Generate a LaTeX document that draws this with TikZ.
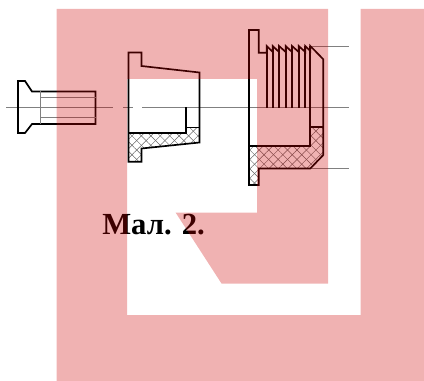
\documentclass[tikz,border=0pt]{standalone}
\usepackage{fontspec}
\setmainfont{Liberation Serif}
\usetikzlibrary{patterns.meta}
\tikzset{
  part/.style={line width=1.25pt,line join=miter},
  thin line/.style={line width=0.5pt,color=black!50},
  hatch a/.style={pattern={Lines[angle=45,distance=5pt,line width=0.35pt]},pattern color=black!60},
  hatch b/.style={pattern={Lines[angle=-45,distance=5pt,line width=0.35pt]},pattern color=black!60},
}
\begin{document}
\begin{tikzpicture}[x=0.75pt,y=-0.75pt]
  \useasboundingbox (0,0) rectangle (424,381);
  % hatching
  \foreach \hatchstyle in {hatch a,hatch b}{
    \path[\hatchstyle] (128.5,133)--(186,133)--(186,127.5)--(199.5,127.5)--(199.5,142.5)--(141.5,148.5)--(141.5,161.7)--(128.5,161.7)--cycle;
    \path[\hatchstyle] (249,146)--(310.3,146)--(310.3,127.3)--(323.3,127.3)--(323.3,155)--(310.3,168.5)--(258.7,168.5)--(258.7,185)--(249,185)--cycle;
  }
  % axis and extension lines
  \draw[thin line] (6,107.3)--(113,107.3) (123,107.3)--(133,107.3) (142,107.3)--(349,107.3);
  \draw[thin line] (310.3,46)--(349,46) (310.3,168.5)--(349,168.5);
  % bolt
  \draw[part] (18,81)--(25,81)--(32,91.5)--(95.5,91.5)--(95.5,124)--(32,124)--(25,133)--(18,133)--cycle;
  \draw[thin line] (40.5,91.5)--(40.5,124) (40.5,97.5)--(95.5,97.5) (40.5,117.5)--(95.5,117.5);
  % sleeve
  \draw[part] (128.5,52.5)--(141.5,52.5)--(141.5,66)--(199.5,72.5)--(199.5,142.5)--(141.5,148.5)--(141.5,161.7)--(128.5,161.7)--cycle;
  \draw[part] (128.5,133)--(186,133)--(186,107) (186,127.5)--(199.5,127.5);
  % nut
  \draw[part] (249,30)--(258.7,30)--(258.7,52.7)--(266.7,52.7)--(266.7,46)
    --(272.7,52)--(272.7,46)--(279,52)--(279,46)--(285.7,52)--(285.7,46)--(292,52)--(292,46)
    --(298.7,52)--(298.7,46)--(305.3,52)--(305.3,46)--(310.3,51)--(310.3,46)
    --(323.3,59.3)--(323.3,155)--(310.3,168.5)--(258.7,168.5)--(258.7,185)--(249,185)--cycle;
  \foreach \threadx in {266.7,272.7,279,285.7,292,298.7,305.3}{
    \draw[part] (\threadx,46)--(\threadx,108);
  }
  \draw[part] (249,146)--(310.3,146)--(310.3,46) (310.3,127.3)--(323.3,127.3);
  \node[anchor=base west,inner sep=0pt,font=\bfseries\fontsize{23pt}{28pt}\selectfont] (caption) at (102,234) {Мал. 2.};
  % watermark lies over the drawing
  \fill[color=red!80!black,opacity=0.3,even odd rule] (56.5,9)--(328,9)--(328,283.5)--(221.5,283.5)--(175.7,212.7)--(257,212.7)--(257,79)--(127,79)--(127,315)--(360.5,315)--(360.5,9)--(424,9)--(424,381)--(56.5,381)--cycle;
\end{tikzpicture}
\end{document}
